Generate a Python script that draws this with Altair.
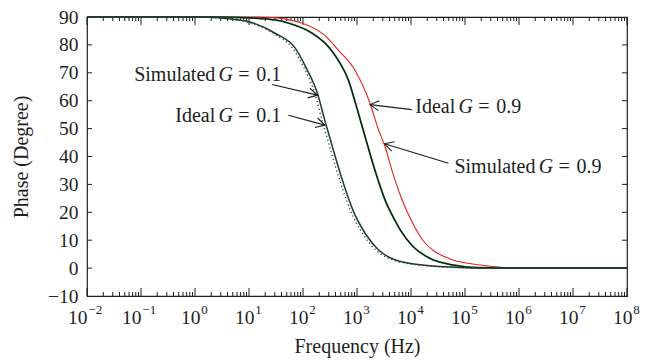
import math
import altair as alt
import pandas as pd

W, H = 540, 279
FONT = "Liberation Serif"
INK = "#1e1e1e"

# ---- curves: log10(frequency in Hz) and phase (degrees) ----
sim01_logf = [-2, 0, 0.5, 1.0, 1.5, 1.85, 2.04, 2.27, 2.41, 2.53, 2.65, 2.78, 2.93, 3.15, 3.40, 3.70, 4.26, 4.8, 5.5, 8]
sim01_phase = [90, 90, 89.6, 88.3, 84.0, 79.0, 72.5, 62.5, 52.5, 44.5, 36.5, 28.5, 20.5, 12.5, 6.5, 3.0, 1.0, 0.3, 0.0, 0.0]

ideal01_logf = [-2, 0, 0.5, 1.0, 1.5, 1.80, 2.0, 2.22, 2.36, 2.48, 2.60, 2.73, 2.88, 3.10, 3.35, 3.65, 4.2, 4.8, 5.5, 6.0]
ideal01_phase = [90, 90, 89.6, 88.0, 83.6, 79.0, 72.5, 62.5, 52.5, 44.5, 36.5, 28.5, 20.5, 12.5, 6.5, 3.0, 1.0, 0.3, 0.0, 0.0]

sim09_logf = [-2, 0.5, 1.0, 1.5, 1.75, 2.17, 2.47, 2.65, 2.84, 2.99, 3.15, 3.33, 3.52, 3.70, 3.80, 4.04, 4.35, 4.78, 5.28, 6, 8]
sim09_phase = [90, 90, 89.7, 88.9, 87.7, 84.2, 79.4, 74.6, 67.4, 57.9, 47.1, 35.2, 24.4, 17.2, 13.7, 7.7, 3.5, 1.1, 0.1, 0.0, 0.0]

ideal09_logf = [-2, 1.0, 1.5, 1.85, 2.0, 2.4, 2.65, 2.96, 3.24, 3.40, 3.52, 3.64, 3.82, 4.02, 4.26, 4.40, 4.78, 5.28, 5.6, 5.89]
ideal09_phase = [90, 90, 89.7, 88.5, 87.7, 83.5, 78.2, 71.0, 59.1, 49.5, 43.5, 35.5, 25.2, 16.5, 9.0, 6.5, 2.9, 1.1, 0.4, 0.0]

# ---- axis ticks ----
x_exponents = list(range(-2, 9))
y_ticks = list(range(-10, 91, 10))

# ---- annotations: prefix, suffix, text anchor (log f, phase), arrow start, arrow tip ----
ann_prefix = ["Simulated", "Ideal", "Ideal", "Simulated"]
ann_suffix = ["=\u20040.1", "=\u20040.1", "=\u20040.9", "=\u20040.9"]
ann_logf = [0.57, 0.57, 5.015, 6.50]
ann_phase = [66.9, 52.5, 55.5, 34.0]
arr_start_logf = [1.426, 1.728, 4.013, 4.694]
arr_start_phase = [65.8, 54.8, 56.8, 37.6]
arr_tip_logf = [2.269, 2.407, 3.241, 3.509]
arr_tip_phase = [62.0, 51.25, 58.6, 44.55]

# ---------------------------------------------------------------------------
xscale = alt.Scale(type="log", domain=[1e-2, 1e8], nice=False)
yscale = alt.Scale(domain=[-10, 90], nice=False, zero=False)
xaxis = alt.Axis(labels=False, ticks=False, tickSize=0, domain=False, grid=False,
                 title="Frequency (Hz)", titlePadding=40, titleFontSize=20)
yaxis = alt.Axis(values=y_ticks, ticks=False, tickSize=0, domain=False, grid=False,
                 labelPadding=9, labelFontSize=19.5, title="Phase (Degree)",
                 titlePadding=16, titleFontSize=20)


def X(field):
    return alt.X(f"{field}:Q", scale=xscale, axis=xaxis)


def Y(field):
    return alt.Y(f"{field}:Q", scale=yscale, axis=yaxis)


def curve(logf, phase):
    return pd.DataFrame({"f": [10.0 ** v for v in logf], "phase": phase})


line_sim01 = alt.Chart(curve(sim01_logf, sim01_phase)).mark_line(
    color="#1c3b37", strokeWidth=1.5, interpolate="monotone").encode(x=X("f"), y=Y("phase"))
line_ideal01 = alt.Chart(curve(ideal01_logf, ideal01_phase)).mark_line(
    color="#333333", strokeWidth=1.3, strokeDash=[1.2, 2.8], interpolate="monotone").encode(x=X("f"), y=Y("phase"))
line_ideal09 = alt.Chart(curve(ideal09_logf, ideal09_phase)).mark_line(
    color="#e8201c", strokeWidth=1.1, interpolate="monotone").encode(x=X("f"), y=Y("phase"))
line_sim09_g = alt.Chart(curve(sim09_logf, sim09_phase)).mark_line(
    color="#2f8a46", strokeWidth=1.9, interpolate="monotone").encode(x=X("f"), y=Y("phase"))
line_sim09_k = alt.Chart(curve(sim09_logf, sim09_phase)).mark_line(
    color="#111111", strokeWidth=1.1, interpolate="monotone").encode(x=X("f"), y=Y("phase"))

# ---- inward ticks drawn as rules ----
major_df = pd.DataFrame({"f": [10.0 ** k for k in x_exponents]})
minor_df = pd.DataFrame({"f": [m * 10.0 ** k for k in x_exponents[:-1] for m in range(2, 10)]})
ytick_df = pd.DataFrame({"v": y_ticks[1:-1]})

tick_layers = []
for df, ln in ((major_df, 8), (minor_df, 4)):
    base = alt.Chart(df).mark_rule(color=INK, strokeWidth=1)
    tick_layers.append(base.encode(x=X("f"), y=alt.value(H), y2=alt.value(H - ln)))
    tick_layers.append(base.encode(x=X("f"), y=alt.value(0), y2=alt.value(ln)))
ybase = alt.Chart(ytick_df).mark_rule(color=INK, strokeWidth=1)
tick_layers.append(ybase.encode(y=Y("v"), x=alt.value(0), x2=alt.value(5)))
tick_layers.append(ybase.encode(y=Y("v"), x=alt.value(W - 5), x2=alt.value(W)))

# ---- x tick labels 10^k with raised exponent ----
def sup_df(exps):
    return pd.DataFrame({"f": [10.0 ** k for k in exps], "base": ["10"] * len(exps),
                         "exp": [("\u2212" + str(-k)) if k < 0 else str(k) for k in exps]})

neg = sup_df([k for k in x_exponents if k < 0])
pos = sup_df([k for k in x_exponents if k >= 0])
label_layers = []
for df, dx in ((neg, 0.5), (pos, 5.5)):
    label_layers.append(alt.Chart(df).mark_text(
        align="right", baseline="alphabetic", dx=dx, font=FONT, fontSize=19.5, color=INK
    ).encode(x=X("f"), y=alt.value(H + 28), text="base:N"))
    label_layers.append(alt.Chart(df).mark_text(
        align="left", baseline="alphabetic", dx=dx + 0.8, font=FONT, fontSize=13, color=INK
    ).encode(x=X("f"), y=alt.value(H + 17.5), text="exp:N"))

# ---- annotations ----
ann_df = pd.DataFrame({"f": [10.0 ** v for v in ann_logf], "phase": ann_phase,
                       "pre": ann_prefix, "suf": ann_suffix, "g": ["G"] * 4})
txt_pre = alt.Chart(ann_df).mark_text(align="right", baseline="alphabetic", dx=-10.5,
                                      font=FONT, fontSize=20, color=INK).encode(
    x=X("f"), y=Y("phase"), text="pre:N")
txt_g = alt.Chart(ann_df).mark_text(align="center", baseline="alphabetic", dx=0,
                                    font=FONT, fontSize=20, fontStyle="italic", color=INK).encode(
    x=X("f"), y=Y("phase"), text="g:N")
txt_suf = alt.Chart(ann_df).mark_text(align="left", baseline="alphabetic", dx=12.5,
                                      font=FONT, fontSize=20, color=INK).encode(
    x=X("f"), y=Y("phase"), text="suf:N")


def to_px(lf, ph):
    return (lf + 2) / 10 * W, (90 - ph) / 100 * H


angles = []
for a, b, c, d in zip(arr_start_logf, arr_start_phase, arr_tip_logf, arr_tip_phase):
    x0, y0 = to_px(a, b)
    x1, y1 = to_px(c, d)
    angles.append(math.degrees(math.atan2(y1 - y0, x1 - x0)) % 360)

arr_df = pd.DataFrame({
    "f": [10.0 ** v for v in arr_start_logf], "phase": arr_start_phase,
    "f2": [10.0 ** v for v in arr_tip_logf], "phase2": arr_tip_phase, "ang": angles})
arrow_line = alt.Chart(arr_df).mark_rule(color=INK, strokeWidth=1.1).encode(
    x=X("f"), y=Y("phase"), x2="f2:Q", y2="phase2:Q")
arrow_head = alt.Chart(arr_df).mark_point(
    shape="M-1,-0.55L0,0L-1,0.55", filled=False, size=324, color=INK, strokeWidth=1.1, opacity=1
).encode(x=alt.X("f2:Q", scale=xscale, axis=xaxis), y=alt.Y("phase2:Q", scale=yscale, axis=yaxis),
         angle=alt.Angle("ang:Q", scale=None))

chart = alt.layer(
    *tick_layers, line_ideal09, line_sim09_g, line_sim09_k, line_sim01, line_ideal01,
    arrow_line, arrow_head, txt_pre, txt_g, txt_suf, *label_layers
).properties(
    width=W, height=H,
    padding={"left": 87, "top": 17, "right": 27, "bottom": 68},
    autosize=alt.AutoSizeParams(type="none"),
).configure_view(
    stroke=INK, strokeWidth=1.2
).configure_axis(
    labelFont=FONT, titleFont=FONT, labelColor=INK, titleColor=INK, titleFontWeight="normal"
)

chart.save("out.html", embed_options={"renderer": "svg", "actions": False})
